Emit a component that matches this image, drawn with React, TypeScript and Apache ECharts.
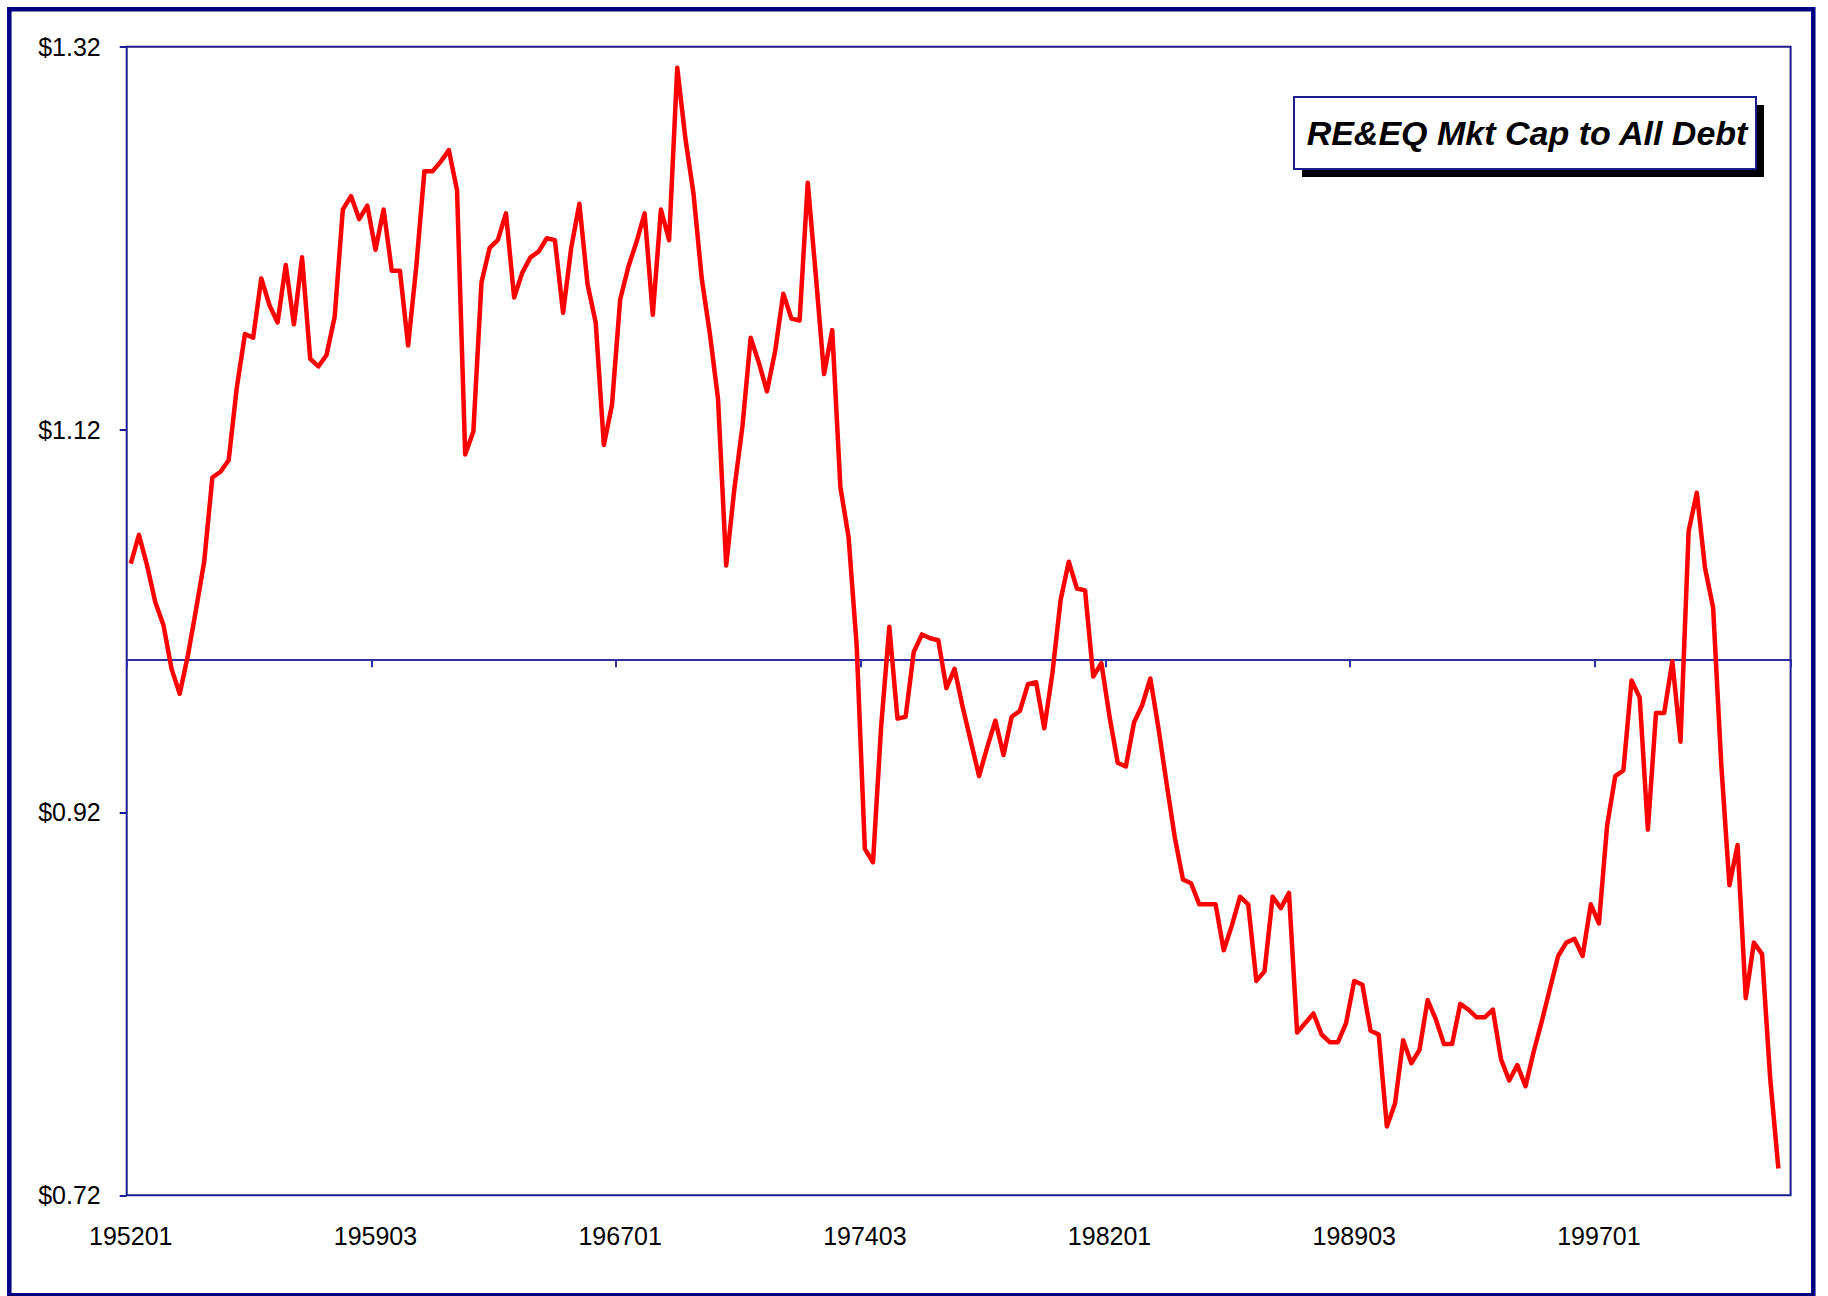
import React, { useEffect, useRef } from "react";
import * as echarts from "echarts";

// Quarterly categories 1952Q1 .. 2002Q4 (labels like "195201")
const firstYear = 1952;
const lastYear = 2002;
const quarterCodes = ["01", "02", "03", "04"];
const categories: string[] = [];
for (let y = firstYear; y <= lastYear; y++) {
  for (const q of quarterCodes) categories.push(`${y}${q}`);
}

// RE&EQ market cap to all debt
const ratio1952to1961 = [
  1.05, 1.065, 1.049, 1.03, 1.018, 0.995, 0.982, 1.002, 1.026, 1.051,
  1.095, 1.098, 1.104, 1.142, 1.17, 1.168, 1.199, 1.185, 1.176, 1.206,
  1.175, 1.21, 1.157, 1.153, 1.159, 1.179, 1.235, 1.242, 1.23, 1.237,
  1.214, 1.235, 1.203, 1.203, 1.164, 1.205, 1.255, 1.255, 1.26, 1.266,
];
const ratio1962to1971 = [
  1.245, 1.107, 1.119, 1.197, 1.215, 1.219, 1.233, 1.189, 1.202, 1.21,
  1.213, 1.22, 1.219, 1.181, 1.215, 1.238, 1.196, 1.176, 1.112, 1.133,
  1.188, 1.205, 1.218, 1.233, 1.18, 1.235, 1.219, 1.309, 1.272, 1.243,
  1.199, 1.17, 1.136, 1.049, 1.089, 1.122, 1.168, 1.155, 1.14, 1.161,
];
const ratio1972to1981 = [
  1.191, 1.178, 1.177, 1.249, 1.2, 1.149, 1.172, 1.09, 1.064, 1.007,
  0.901, 0.894, 0.965, 1.017, 0.969, 0.97, 1.004, 1.013, 1.011, 1.01,
  0.985, 0.995, 0.975, 0.957, 0.939, 0.954, 0.968, 0.95, 0.97, 0.973,
  0.987, 0.988, 0.964, 0.993, 1.031, 1.051, 1.037, 1.036, 0.991, 0.998,
];
const ratio1982to1991 = [
  0.97, 0.946, 0.944, 0.967, 0.976, 0.99, 0.964, 0.935, 0.907, 0.885,
  0.883, 0.872, 0.872, 0.872, 0.848, 0.861, 0.876, 0.872, 0.832, 0.837,
  0.876, 0.87, 0.878, 0.805, 0.81, 0.815, 0.804, 0.8, 0.8, 0.81,
  0.832, 0.83, 0.806, 0.804, 0.756, 0.768, 0.801, 0.789, 0.796, 0.822,
];
const ratio1992to2002 = [
  0.812, 0.799, 0.799, 0.82, 0.817, 0.813, 0.813, 0.817, 0.791, 0.78,
  0.788, 0.777, 0.795, 0.811, 0.828, 0.845, 0.852, 0.854, 0.845, 0.872,
  0.862, 0.913, 0.939, 0.942, 0.989, 0.98, 0.911, 0.972, 0.972, 0.999,
  0.957, 1.067, 1.087, 1.048, 1.027, 0.945, 0.882, 0.903, 0.823, 0.852,
  0.846, 0.781, 0.734,
];
const ratioValues = [
  ...ratio1952to1961,
  ...ratio1962to1971,
  ...ratio1972to1981,
  ...ratio1982to1991,
  ...ratio1992to2002,
];

const yTickValues = [0.72, 0.92, 1.12, 1.32];
const yMin = 0.72;
const yMax = 1.32;
const crossValue = 1.0;
const titleText = "RE&EQ Mkt Cap to All Debt";

const W = 1828;
const H = 1296;
const gridLeft = 126.7;
const gridTop = 46.8;
const gridRight = 37.4;
const gridBottom = 100.7;
const FONT = "Arial, 'Liberation Sans', sans-serif";

export default function App() {
  const ref = useRef<HTMLDivElement>(null);
  useEffect(() => {
    document.body.style.margin = "0";
    if (!ref.current) return;
    const chart = echarts.init(ref.current, undefined, { renderer: "svg" });
    const gridH = H - gridTop - gridBottom;
    const crossOffset = -gridH * ((crossValue - yMin) / (yMax - yMin));
    chart.setOption({
      animation: false,
      backgroundColor: "#ffffff",
      grid: {
        left: gridLeft,
        top: gridTop,
        right: gridRight,
        bottom: gridBottom,
        show: true,
        borderColor: "#1c1c8e",
        borderWidth: 2,
        backgroundColor: "#ffffff",
      },
      xAxis: [
        {
          type: "category",
          data: categories,
          boundaryGap: true,
          position: "bottom",
          axisLine: { show: false },
          axisTick: { show: false },
          splitLine: { show: false },
          axisLabel: {
            interval: 29,
            color: "#000",
            fontSize: 25,
            fontFamily: FONT,
            margin: 28,
          },
        },
        {
          type: "category",
          data: categories,
          boundaryGap: true,
          position: "bottom",
          offset: crossOffset,
          axisLine: { show: true, onZero: false, lineStyle: { color: "#2e2ea0", width: 2 } },
          axisTick: { show: true, interval: 29, length: 8, lineStyle: { color: "#2e2ea0", width: 2 } },
          axisLabel: { show: false },
          splitLine: { show: false },
        },
      ],
      yAxis: {
        type: "value",
        min: yMin,
        max: yMax,
        axisLine: { show: false, onZero: false },
        axisTick: {
          show: true,
          length: 7,
          customValues: yTickValues,
          lineStyle: { color: "#1c1c8e", width: 2 },
        },
        axisLabel: {
          customValues: yTickValues,
          formatter: (v: number) => "$" + v.toFixed(2),
          color: "#000",
          fontSize: 25,
          fontFamily: FONT,
          margin: 26,
        },
        splitLine: { show: false },
      },
      series: [
        {
          type: "line",
          data: ratioValues,
          xAxisIndex: 0,
          symbol: "none",
          showSymbol: false,
          lineStyle: { color: "#ff0000", width: 4.5, join: "round" },
          z: 5,
        },
      ],
      graphic: [
        {
          type: "rect",
          shape: { x: 9.3, y: 9.3, width: 1804, height: 1286 },
          style: { fill: "none", stroke: "#000080", lineWidth: 4.5 },
          z: 10,
          silent: true,
        },
        {
          type: "rect",
          shape: { x: 1302, y: 105, width: 462, height: 72 },
          style: { fill: "#000000" },
          z: 10,
          silent: true,
        },
        {
          type: "rect",
          shape: { x: 1294, y: 97, width: 462, height: 72 },
          style: { fill: "#ffffff", stroke: "#1c1c8e", lineWidth: 2 },
          z: 11,
          silent: true,
        },
        {
          type: "text",
          x: 1527,
          y: 133,
          style: {
            text: titleText,
            fontSize: 34,
            fontWeight: "bold",
            fontStyle: "italic",
            fontFamily: FONT,
            fill: "#000",
            align: "center",
            verticalAlign: "middle",
            textAlign: "center",
            textVerticalAlign: "middle",
          },
          z: 12,
          silent: true,
        },
      ],
    });
    return () => chart.dispose();
  }, []);
  return <div ref={ref} style={{ width: W, height: H }} />;
}
